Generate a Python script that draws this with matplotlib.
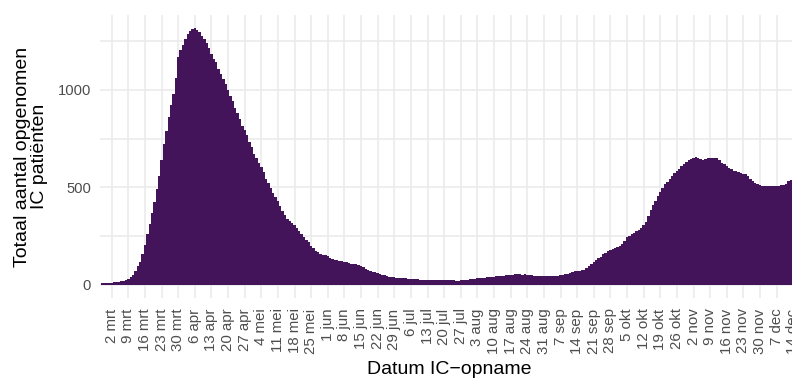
import matplotlib
matplotlib.use("Agg")
import matplotlib.pyplot as plt
import matplotlib.dates as mdates
import pandas as pd
import numpy as np

# Daily ICU occupancy, starting 27 feb 2020
start_date = "2020-02-27"
values = [
    8, 9, 10, 11,
    12, 14, 16, 17, 20, 23, 27,
    33, 40, 50, 70, 95, 120, 160,
    205, 260, 315, 370, 425, 490, 560,
    640, 720, 790, 860, 920, 980, 1060,
    1170, 1205, 1230, 1260, 1285, 1300, 1310,
    1318, 1305, 1298, 1275, 1260, 1240, 1215,
    1185, 1160, 1140, 1105, 1080, 1055, 1030,
    1000, 970, 940, 905, 880, 850, 815,
    795, 770, 730, 705, 670, 650, 625,
    605, 580, 545, 520, 495, 472, 450,
    428, 405, 380, 360, 338, 326, 318,
    306, 290, 275, 260, 245, 233, 222,
    200, 188, 175, 167, 160, 155, 153,
    149, 140, 133, 130, 127, 125, 122,
    120, 116, 113, 110, 107, 106, 103,
    98, 90, 80, 77, 73, 69, 66,
    60, 57, 53, 50, 46, 43, 41,
    40, 38, 37, 36, 35, 34, 33,
    33, 31, 30, 29, 28, 28, 27,
    27, 26, 26, 26, 26, 26, 26,
    26, 25, 25, 24, 24, 23, 23,
    24, 25, 26, 28, 30, 31, 33,
    34, 36, 37, 38, 40, 41, 42,
    43, 45, 46, 47, 48, 50, 52,
    53, 53, 55, 54, 55, 53, 54,
    53, 51, 50, 48, 46, 46, 45,
    44, 44, 45, 45, 46, 47, 48,
    50, 52, 54, 58, 62, 68, 72,
    72, 74, 76, 78, 88, 97, 108,
    118, 128, 138, 145, 158, 166, 172,
    178, 185, 188, 193, 198, 210, 225,
    245, 252, 260, 268, 275, 280, 290,
    305, 325, 355, 385, 410, 430, 455,
    475, 495, 515, 528, 545, 560, 575,
    585, 595, 608, 620, 628, 638, 643,
    650, 655, 652, 645, 642, 645, 648,
    650, 648, 650, 648, 638, 625, 618,
    612, 600, 592, 585, 582, 578, 574,
    570, 566, 560, 545, 535, 525, 518,
    512, 508, 505, 505, 506, 505, 506,
    506, 508, 510, 510, 515, 535, 540,
    540, 540,
]
dates = pd.date_range(start_date, periods=len(values), freq="D")

# Tick labels: weekly Mondays
tick_dates = pd.date_range("2020-03-02", "2020-12-14", freq="7D")
month_nl = ["jan", "feb", "mrt", "apr", "mei", "jun", "jul", "aug",
            "sep", "okt", "nov", "dec"]
tick_labels = [f"{d.day} {month_nl[d.month - 1]}" for d in tick_dates]
y_ticks = [0, 500, 1000]
y_minor = [250, 750, 1250]

bar_color = "#43145A"
grid_color = "#EBEBEB"

plt.rcParams["font.family"] = ["Liberation Sans", "DejaVu Sans"]

W, H = 792, 378
fig = plt.figure(figsize=(W / 100, H / 100), dpi=100)
left_px, right_px, top_px, bottom_px = 100, 798, 15, 298
ax = fig.add_axes([left_px / W, 1 - bottom_px / H,
                   (right_px - left_px) / W, (bottom_px - top_px) / H])

ax.bar(dates, values, width=1.0, color=bar_color, linewidth=0,
       antialiased=False, zorder=2)

x_ref = mdates.date2num(pd.Timestamp("2020-03-02"))
ax.set_xlim(x_ref - 4.93, x_ref + 289.0)
ax.set_ylim(-66.6, 1383)

ax.set_xticks(tick_dates)
ax.set_xticklabels(tick_labels, rotation=90, fontsize=10.8, color="#4D4D4D")
ax.set_yticks(y_ticks)
ax.set_yticklabels([str(v) for v in y_ticks], fontsize=10.6, color="#4D4D4D")
ax.set_yticks(y_minor, minor=True)
ax.tick_params(axis="both", which="both", length=0)
ax.tick_params(axis="x", pad=7.5)
ax.tick_params(axis="y", pad=6.5)

ax.grid(True, which="major", axis="both", color=grid_color, linewidth=1.2, zorder=0)
ax.grid(True, which="minor", axis="y", color=grid_color, linewidth=1.2, zorder=0)
ax.set_axisbelow(True)
for s in ax.spines.values():
    s.set_visible(False)

fig.text(31 / W, 1 - 156.5 / H, "Totaal aantal opgenomen\nIC patiënten",
         rotation=90, ha="center", va="center", fontsize=14, color="black",
         linespacing=1.0, multialignment="center")
fig.text(449 / W, 4.5 / H, "Datum IC\u2212opname", ha="center", va="baseline",
         fontsize=14, color="black")

fig.savefig("out.png", dpi=100)
